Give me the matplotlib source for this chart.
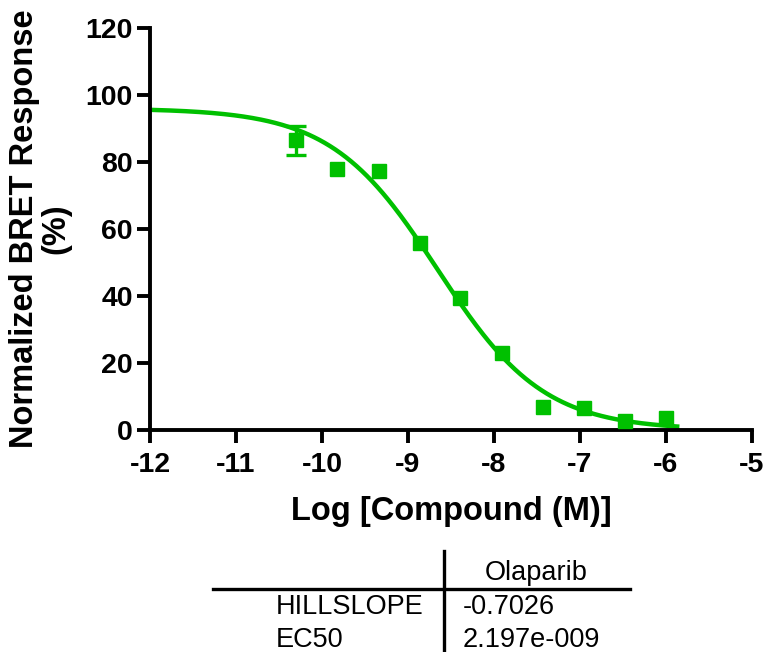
import numpy as np
import matplotlib
matplotlib.use("Agg")
import matplotlib.pyplot as plt
from matplotlib.lines import Line2D

plt.rcParams['font.family'] = ['Liberation Sans', 'DejaVu Sans']
plt.rcParams['axes.unicode_minus'] = False

# data
log_conc = [-10.30, -9.82, -9.34, -8.86, -8.39, -7.91, -7.43, -6.95, -6.48, -6.00]
response = [86.5, 77.9, 77.3, 55.7, 39.4, 23.0, 6.9, 6.6, 2.7, 3.6]
sem = [4.3, 0, 0, 0, 0, 0, 0, 0, 0, 0]

# fit parameters
top = 96.0
bottom = 0.0
ec50 = 2.197e-9
hillslope = -0.7026
fit_range = [-12.0, -5.87]

table_cols = ['Olaparib']
table_rows = ['HILLSLOPE', 'EC50']
table_vals = ['-0.7026', '2.197e-009']

green = '#00c000'

fig = plt.figure(figsize=(7.72, 6.52), dpi=100)
ax = fig.add_axes([150/772, 1-430/652, 602/772, 402/652])

xc = np.linspace(fit_range[0], fit_range[1], 300)
yc = bottom + (top - bottom) / (1 + 10**((np.log10(ec50) - xc) * hillslope))
ax.plot(xc, yc, color=green, lw=3.2, zorder=2)

ax.plot(log_conc, response, 's', color=green, ms=10.5, zorder=3, clip_on=False)
idx = [i for i, e in enumerate(sem) if e > 0]
ax.errorbar([log_conc[i] for i in idx], [response[i] for i in idx],
            yerr=[sem[i] for i in idx], fmt='none', ecolor=green,
            elinewidth=2.4, capsize=7, capthick=2.4, zorder=3)

ax.set_xlim(-12, -5)
ax.set_ylim(0, 120)
ax.set_xticks(range(-12, -4))
ax.set_yticks(range(0, 121, 20))
for s in ['top', 'right']:
    ax.spines[s].set_visible(False)
for s in ['left', 'bottom']:
    ax.spines[s].set_linewidth(2.8)
ax.tick_params(width=2.8, length=9.5, labelsize=20.5, pad=3)
ax.tick_params(axis='x', pad=6)
for lab in ax.get_xticklabels() + ax.get_yticklabels():
    lab.set_fontweight('bold')

ax.set_xlabel('Log [Compound (M)]', fontsize=23.5, fontweight='bold', labelpad=13)
ax.set_ylabel('Normalized BRET Response\n(%)', fontsize=23.5, fontweight='bold',
              labelpad=10, linespacing=1.0)

# parameter table under the chart
W, H = 772, 652
def fx(px):
    return px / W
def fy(py):
    return 1 - py / H

fig.add_artist(Line2D([fx(213), fx(630)], [fy(589), fy(589)], color='black', lw=2.4))
fig.add_artist(Line2D([fx(444), fx(444)], [fy(551), fy(652)], color='black', lw=2.4))
fig.text(fx(536), fy(580), table_cols[0], fontsize=19.5, ha='center', va='baseline')
row_y = [614, 647]
for name, val, y in zip(table_rows, table_vals, row_y):
    fig.text(fx(276), fy(y), name, fontsize=19.5, ha='left', va='baseline')
    fig.text(fx(463), fy(y), val, fontsize=19.5, ha='left', va='baseline')

fig.savefig('out.png', dpi=100)
